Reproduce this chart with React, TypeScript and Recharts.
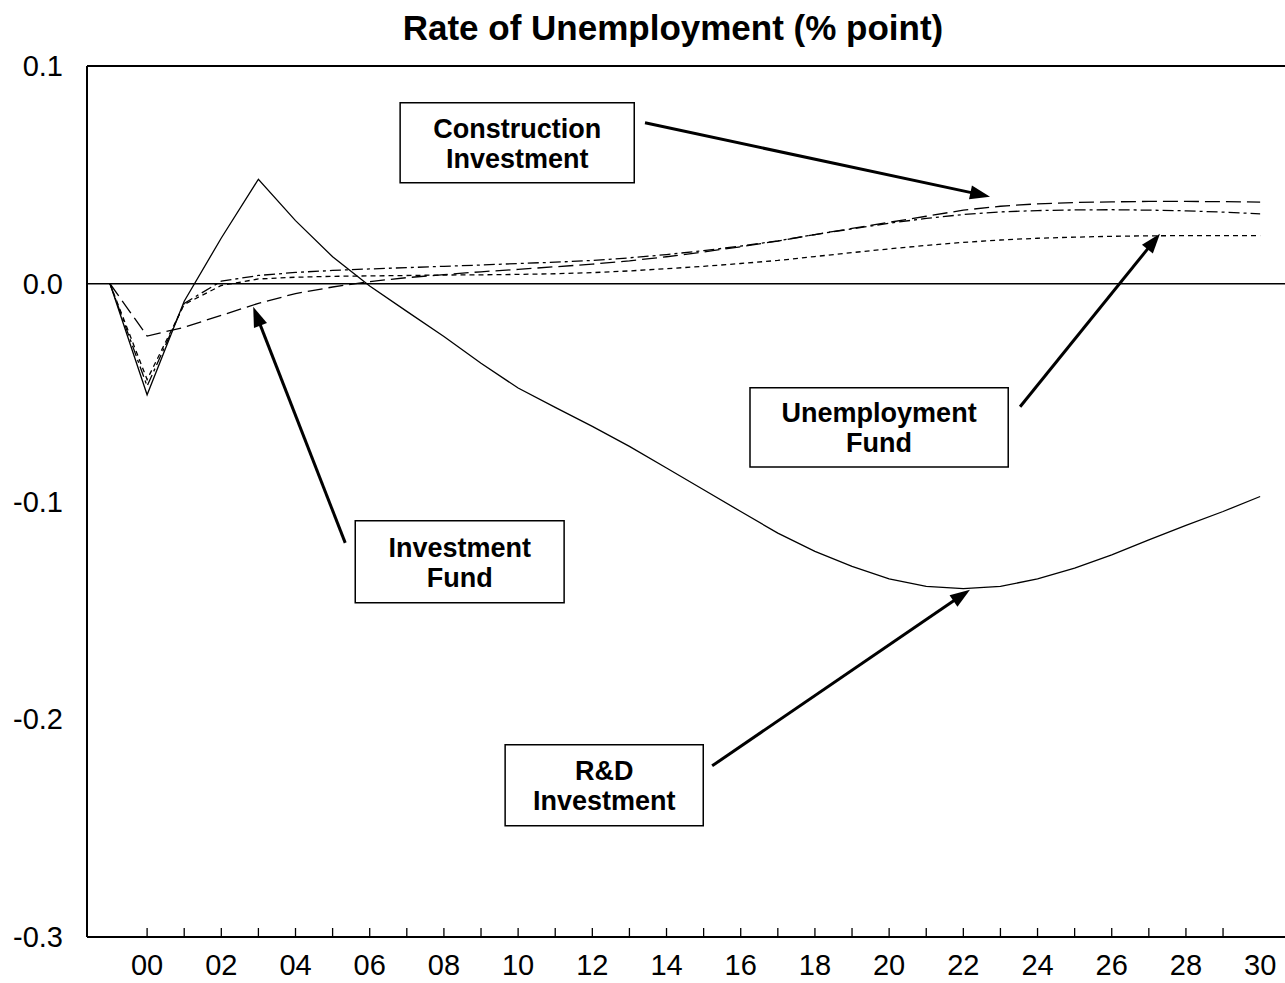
import { LineChart, Line, XAxis, YAxis, ReferenceLine, ReferenceArea, Customized } from 'recharts'

// years 1999..2030, shown as two-digit labels
const years = ['99', '00', '01', '02', '03', '04', '05', '06', '07', '08', '09', '10', '11', '12', '13', '14', '15', '16', '17', '18', '19', '20', '21', '22', '23', '24', '25', '26', '27', '28', '29', '30']

const rdInvestment = [0, -0.051, -0.008, 0.021, 0.048, 0.029, 0.0124, -0.001, -0.0127, -0.0242, -0.0365, -0.0479, -0.0568, -0.0655, -0.0747, -0.0846, -0.0946, -0.1046, -0.1145, -0.1229, -0.1298, -0.1355, -0.139, -0.14, -0.139, -0.1355, -0.1306, -0.1245, -0.1176, -0.111, -0.1046, -0.0977]
const investmentFund = [0, -0.024, -0.02, -0.0145, -0.009, -0.0045, -0.0015, 0.001, 0.0028, 0.0042, 0.0055, 0.0066, 0.0078, 0.009, 0.0105, 0.0124, 0.0146, 0.017, 0.0196, 0.0226, 0.0254, 0.0282, 0.031, 0.0338, 0.0356, 0.0367, 0.0373, 0.0376, 0.0378, 0.0378, 0.0377, 0.0375]
const constructionInvestment = [0, -0.047, -0.009, 0.0012, 0.0038, 0.0052, 0.0061, 0.0068, 0.0074, 0.008, 0.0086, 0.0093, 0.0099, 0.0107, 0.0119, 0.0134, 0.0152, 0.0173, 0.0197, 0.0226, 0.0252, 0.0278, 0.03, 0.0318, 0.033, 0.0336, 0.0339, 0.034, 0.0338, 0.0335, 0.0329, 0.0321]
const unemploymentFund = [0, -0.044, -0.0095, -0.0008, 0.0022, 0.003, 0.0034, 0.0036, 0.0038, 0.004, 0.0041, 0.0043, 0.0046, 0.0051, 0.0059, 0.0069, 0.008, 0.0093, 0.0107, 0.0125, 0.0143, 0.016, 0.0176, 0.019, 0.0201, 0.0209, 0.0214, 0.0218, 0.022, 0.0221, 0.0221, 0.0221]

const yTicks = [-0.3, -0.2, -0.1, 0, 0.1]
const yTickLabels = ['-0.3', '-0.2', '-0.1', '0.0', '0.1']
const xTicks = years.slice(1).map((_, i) => i)

const data = years.map((label, i) => ({
  t: i - 1,
  label,
  rd: rdInvestment[i],
  inf: investmentFund[i],
  ci: constructionInvestment[i],
  uf: unemploymentFund[i],
}))

// annotation boxes and arrows, in data coordinates
const notes = [
  { lines: ['Construction', 'Investment'], box: [6.82, 13.13, 0.0464, 0.0831], arrow: [[13.42, 0.0739], [22.72, 0.0400]] },
  { lines: ['Unemployment', 'Fund'], box: [16.25, 23.21, -0.0841, -0.0478], arrow: [[23.53, -0.0565], [27.3, 0.023]] },
  { lines: ['Investment', 'Fund'], box: [5.61, 11.24, -0.1465, -0.1088], arrow: [[5.34, -0.119], [2.86, -0.0106]] },
  { lines: ['R&D', 'Investment'], box: [9.65, 14.99, -0.2489, -0.2117], arrow: [[15.23, -0.2214], [22.18, -0.1405]] },
]

const FONT = '"Liberation Sans", Arial, Helvetica, sans-serif'

function XTick(props: any) {
  const { x, y, payload } = props
  const v = payload.value as number
  return (
    <g>
      {v < 30 && <line x1={x} x2={x} y1={y - 9} y2={y} stroke="#000" strokeWidth={1.3} />}
      {v % 2 === 0 && (
        <text x={x} y={y + 38} textAnchor="middle" fontSize={29} fill="#000" fontFamily={FONT}>
          {years[v + 1]}
        </text>
      )}
    </g>
  )
}

function YTick(props: any) {
  const { x, y, payload } = props
  const idx = yTicks.indexOf(payload.value)
  return (
    <text x={x - 24} y={y + 10} textAnchor="end" fontSize={29} fill="#000" fontFamily={FONT}>
      {yTickLabels[idx]}
    </text>
  )
}

function Arrow(props: any) {
  const { x1, y1, x2, y2 } = props
  const dx = x2 - x1
  const dy = y2 - y1
  const len = Math.sqrt(dx * dx + dy * dy)
  const ux = dx / len
  const uy = dy / len
  const head = 20
  const half = 7
  const bx = x2 - ux * head
  const by = y2 - uy * head
  return (
    <g>
      <line x1={x1} y1={y1} x2={bx + ux * 2} y2={by + uy * 2} stroke="#000" strokeWidth={3} />
      <polygon
        points={`${x2},${y2} ${bx - uy * half},${by + ux * half} ${bx + uy * half},${by - ux * half}`}
        fill="#000"
      />
    </g>
  )
}

function boxLabel(lines: string[]) {
  return (props: any) => {
    const { x, y, width, height } = props.viewBox
    const cx = x + width / 2
    const cy = y + height / 2
    return (
      <text textAnchor="middle" fontSize={27} fontWeight="bold" fill="#000" fontFamily={FONT}>
        <tspan x={cx} y={cy - 5}>{lines[0]}</tspan>
        <tspan x={cx} y={cy + 25}>{lines[1]}</tspan>
      </text>
    )
  }
}

function Title() {
  return (
    <text x={673} y={40} textAnchor="middle" fontSize={35} fontWeight="bold" fill="#000" fontFamily={FONT}>
      Rate of Unemployment (% point)
    </text>
  )
}

export default function App() {
  return (
    <div style={{ position: 'absolute', left: 0, top: 0, background: '#fff' }}>
      <LineChart
        width={1285}
        height={983}
        data={data}
        margin={{ top: 66, right: 0, bottom: 0, left: 0 }}
        style={{ fontFamily: FONT }}
      >
        <XAxis
          type="number"
          dataKey="t"
          domain={[-1.62, 30.67]}
          ticks={xTicks}
          interval={0}
          allowDataOverflow
          height={46}
          tickSize={0}
          tickMargin={0}
          tickLine={false}
          axisLine={{ stroke: '#000', strokeWidth: 2 }}
          tick={<XTick />}
        />
        <YAxis
          type="number"
          domain={[-0.3, 0.1]}
          ticks={yTicks}
          interval={0}
          width={87}
          tickSize={0}
          tickMargin={0}
          tickLine={false}
          axisLine={{ stroke: '#000', strokeWidth: 2 }}
          tick={<YTick />}
        />
        <ReferenceLine y={0.1} stroke="#000" strokeWidth={2} />
        <ReferenceLine y={0} stroke="#000" strokeWidth={1.3} />
        <Line type="linear" dataKey="rd" stroke="#000" strokeWidth={1.3} dot={false} isAnimationActive={false} />
        <Line type="linear" dataKey="inf" stroke="#000" strokeWidth={1.3} strokeDasharray="15 6" dot={false} isAnimationActive={false} />
        <Line type="linear" dataKey="ci" stroke="#000" strokeWidth={1.3} strokeDasharray="11 4 3 4" dot={false} isAnimationActive={false} />
        <Line type="linear" dataKey="uf" stroke="#000" strokeWidth={1.3} strokeDasharray="5 4" dot={false} isAnimationActive={false} />
        {notes.map((n) => (
          <ReferenceArea
            key={n.lines.join(' ')}
            x1={n.box[0]}
            x2={n.box[1]}
            y1={n.box[2]}
            y2={n.box[3]}
            fill="#fff"
            fillOpacity={1}
            stroke="#000"
            strokeWidth={1.5}
            label={boxLabel(n.lines)}
          />
        ))}
        {notes.map((n) => (
          <ReferenceLine
            key={'arrow-' + n.lines.join(' ')}
            segment={[
              { x: n.arrow[0][0], y: n.arrow[0][1] },
              { x: n.arrow[1][0], y: n.arrow[1][1] },
            ]}
            shape={<Arrow />}
          />
        ))}
        <Customized component={Title} />
      </LineChart>
    </div>
  )
}
